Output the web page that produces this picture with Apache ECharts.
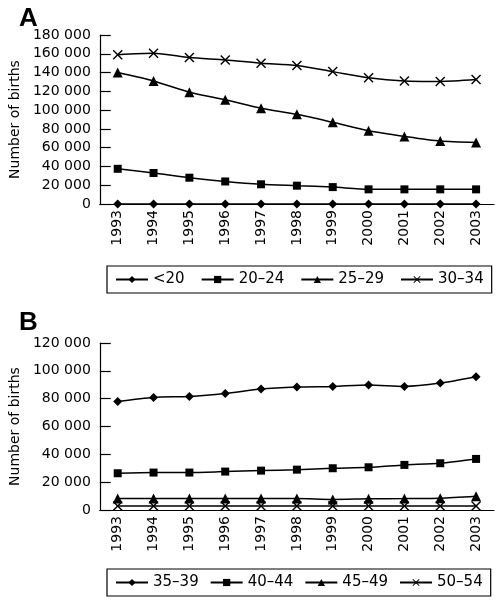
<!DOCTYPE html>
<html>
<head>
<meta charset="utf-8">
<script src="https://cdn.jsdelivr.net/npm/echarts@6/dist/echarts.min.js"></script>
<style>html,body{margin:0;padding:0;background:#fff}#c{width:497px;height:600px}</style>
</head>
<body>
<div id="c"></div>
<script>
var years = ['1993','1994','1995','1996','1997','1998','1999','2000','2001','2002','2003'];
var namesA = ['<20','20–24','25–29','30–34'];
var namesB = ['35–39','40–44','45–49','50–54'];
var a_lt20 = [0,0,0,0,0,0,0,0,0,0,0];
var a_20_24 = [37500,33000,28000,24000,21000,19500,18000,15600,15600,15600,15600];
var a_25_29 = [140000,131000,119000,111000,102000,95500,87000,78000,72000,67000,65500];
var a_30_34 = [159000,160500,156000,153500,150000,147500,141000,134500,131000,130500,132500];
var b_35_39 = [78000,80900,81600,83700,86900,88300,88800,89800,88800,91200,95800];
var b_40_44 = [26400,26900,26900,27600,28300,29000,30000,30700,32400,33600,36700];
var b_45_49 = [8300,8300,8300,8300,8200,8200,7600,8000,8200,8400,9800];
var b_50_54 = [2800,2800,2800,2800,2800,2800,2800,2800,2800,2800,2800];
var yTicksA = {min:0, max:180000, interval:20000};
var yTicksB = {min:0, max:120000, interval:20000};

var FONT = 'DejaVu Sans';
var crossPath = 'path://M0,1 L1,0 L5,4 L9,0 L10,1 L6,5 L10,9 L9,10 L5,6 L1,10 L0,9 L4,5 Z';
var symbols = ['diamond','rect','triangle',crossPath];
var sizes = [9,8,10,10];

function fmt(v){ return String(v).replace(/\B(?=(\d{3})+(?!\d))/g,' '); }

function xAxis(gi){
  return {
    type:'category', gridIndex:gi, data:years, boundaryGap:true,
    axisLine:{lineStyle:{color:'#000',width:1.2}},
    axisTick:{inside:true,length:11,lineStyle:{color:'#000',width:1.2}},
    axisLabel:{rotate:90,color:'#000',fontFamily:FONT,fontSize:14,margin:6}
  };
}
function yAxis(gi, t){
  return {
    type:'value', gridIndex:gi, min:t.min, max:t.max, interval:t.interval,
    name:'Number of births', nameLocation:'middle', nameGap:74,
    nameTextStyle:{color:'#000',fontFamily:FONT,fontSize:14},
    axisLine:{show:true,lineStyle:{color:'#000',width:1.2}},
    axisTick:{show:true,inside:true,length:11,lineStyle:{color:'#000',width:1.2}},
    splitLine:{show:false},
    axisLabel:{color:'#000',fontFamily:FONT,fontSize:14,margin:9,formatter:fmt}
  };
}
function ser(name, data, i, gi){
  return {
    name:name, type:'line', xAxisIndex:gi, yAxisIndex:gi, data:data,
    smooth:0.25, symbol:symbols[i], symbolSize:sizes[i], showSymbol:true,
    lineStyle:{color:'#000',width:1.5}, itemStyle:{color:'#000'},
    emphasis:{disabled:true}, animation:false
  };
}
function legend(names, top, gap){
  return {
    data:names, left:107, top:top, right:0,
    orient:'horizontal', borderColor:'#000', borderWidth:1.2,
    padding:[6,8,6,8], itemWidth:32, itemHeight:9, itemGap:gap,
    textStyle:{color:'#000',fontFamily:FONT,fontSize:15}
  };
}

var chart = echarts.init(document.getElementById('c'), null, {renderer:'canvas'});
chart.setOption({
  backgroundColor:'#fff',
  animation:false,
  title:[
    {text:'A', left:14, top:1, textStyle:{fontFamily:'Liberation Sans',fontWeight:'bold',fontSize:26,color:'#000'}},
    {text:'B', left:14, top:305, textStyle:{fontFamily:'Liberation Sans',fontWeight:'bold',fontSize:26,color:'#000'}}
  ],
  legend:[ legend(namesA,266,16), legend(namesB,569,11) ],
  grid:[
    {left:91, top:35, width:403, height:169},
    {left:91, top:343, width:403, height:167}
  ],
  xAxis:[xAxis(0), xAxis(1)],
  yAxis:[yAxis(0,yTicksA), yAxis(1,yTicksB)],
  series:[
    ser(namesA[0],a_lt20,0,0), ser(namesA[1],a_20_24,1,0), ser(namesA[2],a_25_29,2,0), ser(namesA[3],a_30_34,3,0),
    ser(namesB[0],b_35_39,0,1), ser(namesB[1],b_40_44,1,1), ser(namesB[2],b_45_49,2,1), ser(namesB[3],b_50_54,3,1)
  ]
});
</script>
</body>
</html>
